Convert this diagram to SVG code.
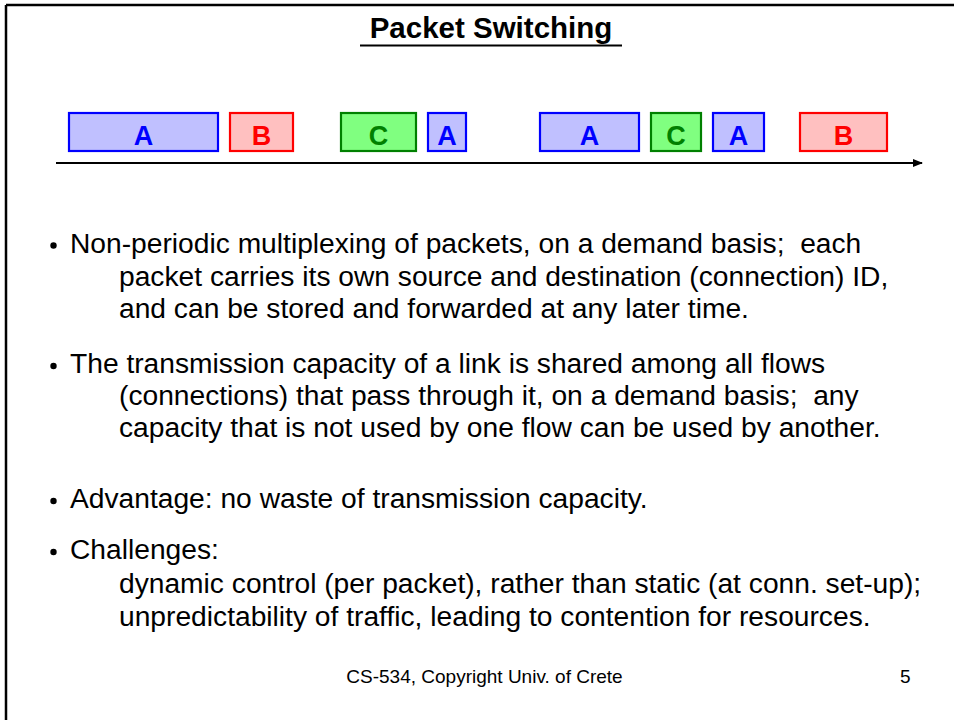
<svg xmlns="http://www.w3.org/2000/svg" width="954" height="720" viewBox="0 0 954 720">
<defs>
<style>
.body{font-family:"Liberation Sans",Arial,sans-serif;font-size:28.2px;fill:#000;white-space:pre}
.lbl{font-family:"Liberation Sans",Arial,sans-serif;font-size:27px;font-weight:bold;text-anchor:middle}
.pa{fill:#c0c0ff;stroke:#0000ff;stroke-width:2.2}
.pb{fill:#ffc0c0;stroke:#ff0000;stroke-width:2.2}
.pc{fill:#80ff80;stroke:#008000;stroke-width:2.2}
.ta{fill:#0000ff}.tb{fill:#ff0000}.tc{fill:#008000}
</style>
<marker id="arr" markerWidth="10" markerHeight="8" refX="9" refY="4" orient="auto" markerUnits="userSpaceOnUse">
<path d="M0,0 L10,4 L0,8 Z" fill="#000"/>
</marker>
</defs>
<rect width="954" height="720" fill="#fff"/>
<g id="frame" stroke="#000" stroke-width="2.5" fill="none">
<line x1="6" y1="5" x2="954" y2="5"/>
<line x1="6" y1="5" x2="6" y2="720"/>
</g>
<g id="title">
<text x="491" y="38" text-anchor="middle" font-family="Liberation Sans, Arial, sans-serif" font-size="29.5" font-weight="bold">Packet Switching</text>
<line x1="360" y1="45.5" x2="622" y2="45.5" stroke="#000" stroke-width="2"/>
</g>
<g id="connectors">
<line x1="56" y1="163" x2="922" y2="163" stroke="#000" stroke-width="2.2" marker-end="url(#arr)"/>
</g>
<g id="pkt1"><rect class="pa" x="69" y="113" width="149" height="38"/><text class="lbl ta" x="143.5" y="145">A</text></g>
<g id="pkt2"><rect class="pb" x="230" y="113" width="63" height="38"/><text class="lbl tb" x="261.5" y="145">B</text></g>
<g id="pkt3"><rect class="pc" x="341" y="113" width="75" height="38"/><text class="lbl tc" x="378.5" y="145">C</text></g>
<g id="pkt4"><rect class="pa" x="428" y="113" width="38" height="38"/><text class="lbl ta" x="447" y="145">A</text></g>
<g id="pkt5"><rect class="pa" x="540" y="113" width="99" height="38"/><text class="lbl ta" x="589.5" y="145">A</text></g>
<g id="pkt6"><rect class="pc" x="651" y="113" width="50" height="38"/><text class="lbl tc" x="676" y="145">C</text></g>
<g id="pkt7"><rect class="pa" x="713" y="113" width="51" height="38"/><text class="lbl ta" x="738.5" y="145">A</text></g>
<g id="pkt8"><rect class="pb" x="800" y="113" width="87" height="38"/><text class="lbl tb" x="843.5" y="145">B</text></g>
<g id="bullets" fill="#000">
<circle cx="53.5" cy="245.5" r="3.2"/>
<circle cx="53.5" cy="366" r="3.2"/>
<circle cx="53.5" cy="501" r="3.2"/>
<circle cx="53.5" cy="552" r="3.2"/>
</g>
<g id="text">
<text class="body" x="70" y="253">Non-periodic multiplexing of packets, on a demand basis;  each</text>
<text class="body" x="119" y="285.5">packet carries its own source and destination (connection) ID,</text>
<text class="body" x="119" y="318">and can be stored and forwarded at any later time.</text>
<text class="body" x="70" y="373">The transmission capacity of a link is shared among all flows</text>
<text class="body" x="119" y="405">(connections) that pass through it, on a demand basis;  any</text>
<text class="body" x="119" y="437">capacity that is not used by one flow can be used by another.</text>
<text class="body" x="70" y="508">Advantage: no waste of transmission capacity.</text>
<text class="body" x="70" y="559">Challenges:</text>
<text class="body" x="119" y="593">dynamic control (per packet), rather than static (at conn. set-up);</text>
<text class="body" x="119" y="626">unpredictability of traffic, leading to contention for resources.</text>
</g>
<g id="footer" font-family="Liberation Sans, Arial, sans-serif" font-size="19" fill="#000">
<text x="484.5" y="683" text-anchor="middle">CS-534, Copyright Univ. of Crete</text>
<text x="900" y="683">5</text>
</g>
</svg>
